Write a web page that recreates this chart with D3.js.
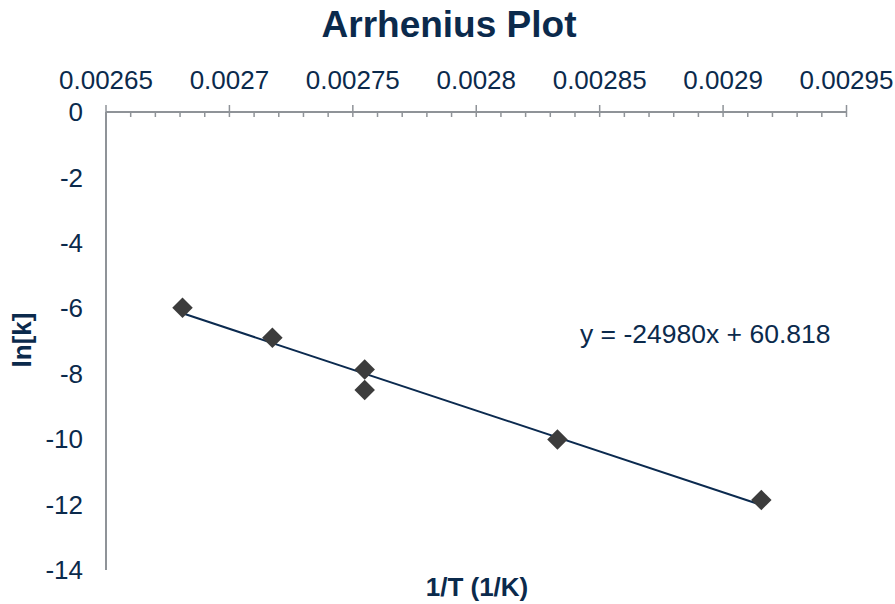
<!DOCTYPE html>
<html>
<head>
<meta charset="utf-8">
<script src="https://cdn.jsdelivr.net/npm/d3@7"></script>
<style>
html,body{margin:0;padding:0;background:#fff;}
svg{display:block;font-family:"Liberation Sans",Arial,sans-serif;}
</style>
</head>
<body>
<svg id="chart" width="895" height="604"></svg>
<script>
// Data
const invT = [0.002681, 0.0027174, 0.0027548, 0.0027548, 0.0028329, 0.0029155];
const lnK = [-5.98, -6.90, -7.87, -8.50, -10.01, -11.86];
const fitSlope = -24980;
const fitIntercept = 60.818;
const xTicks = [0.00265, 0.0027, 0.00275, 0.0028, 0.00285, 0.0029, 0.00295];
const xTickLabels = ["0.00265", "0.0027", "0.00275", "0.0028", "0.00285", "0.0029", "0.00295"];
const yTicks = [0, -2, -4, -6, -8, -10, -12, -14];
const yTickLabels = ["0", "-2", "-4", "-6", "-8", "-10", "-12", "-14"];
const titleText = "Arrhenius Plot";
const xTitle = "1/T (1/K)";
const yTitle = "ln[k]";
const eqText = "y = -24980x + 60.818";

const svg = d3.select("#chart");
const textColor = "#0b2a4c";
const axisColor = "#8f9398";

const x = d3.scaleLinear().domain([0.00265, 0.00295]).range([106, 846.5]);
const y = d3.scaleLinear().domain([-14, 0]).range([570, 112]);

// title
svg.append("text").attr("x", 449).attr("y", 37).attr("text-anchor", "middle")
  .attr("font-size", 37).attr("font-weight", "bold").attr("fill", textColor).text(titleText);

// minor ticks
const minor = [];
for (let i = 0; i < xTicks.length - 1; i++) {
  for (let k = 1; k < 5; k++) minor.push(xTicks[i] + (xTicks[i + 1] - xTicks[i]) * k / 5);
}
const gAxis = svg.append("g");
gAxis.selectAll("line.minor").data(minor).enter().append("line")
  .attr("x1", d => x(d)).attr("x2", d => x(d))
  .attr("y1", y(0)).attr("y2", y(0) + 5)
  .attr("stroke", axisColor).attr("stroke-width", 1.5);
gAxis.selectAll("line.major").data(xTicks).enter().append("line")
  .attr("x1", d => x(d)).attr("x2", d => x(d))
  .attr("y1", y(0) - 7).attr("y2", y(0) + 5)
  .attr("stroke", axisColor).attr("stroke-width", 1.5);
// x axis line
gAxis.append("line").attr("x1", x(0.00265)).attr("x2", x(0.00295))
  .attr("y1", y(0)).attr("y2", y(0)).attr("stroke", axisColor).attr("stroke-width", 2);
// y axis line
gAxis.append("line").attr("x1", x(0.00265)).attr("x2", x(0.00265))
  .attr("y1", y(0)).attr("y2", y(-14)).attr("stroke", axisColor).attr("stroke-width", 2);

// x tick labels
svg.append("g").selectAll("text").data(xTicks).enter().append("text")
  .attr("x", d => x(d)).attr("y", 89).attr("text-anchor", "middle")
  .attr("font-size", 26).attr("fill", textColor)
  .text((d, i) => xTickLabels[i]);

// y tick labels
svg.append("g").selectAll("text").data(yTicks).enter().append("text")
  .attr("x", 83).attr("y", d => y(d)).attr("dy", "0.35em").attr("text-anchor", "end")
  .attr("font-size", 26).attr("fill", textColor)
  .text((d, i) => yTickLabels[i]);

// axis titles
svg.append("text").attr("x", 477).attr("y", 596).attr("text-anchor", "middle")
  .attr("font-size", 26).attr("font-weight", "bold").attr("fill", textColor).text(xTitle);
svg.append("text").attr("transform", "translate(31,340) rotate(-90)").attr("text-anchor", "middle")
  .attr("font-size", 26).attr("font-weight", "bold").attr("fill", textColor).text(yTitle);

// trendline
const xMin = d3.min(invT), xMax = d3.max(invT);
const line = d3.line().x(d => x(d)).y(d => y(fitSlope * d + fitIntercept));
svg.append("path").datum([xMin, xMax]).attr("d", line)
  .attr("fill", "none").attr("stroke", "#0b2a4f").attr("stroke-width", 2);

// markers
const diamond = d3.symbol().type(d3.symbolSquare).size(210);
svg.append("g").selectAll("path").data(invT).enter().append("path")
  .attr("d", diamond)
  .attr("transform", (d, i) => `translate(${x(d)},${y(lnK[i])}) rotate(45)`)
  .attr("fill", "#3c3c3c");

// equation
svg.append("text").attr("x", 580).attr("y", 343).attr("font-size", 26.5)
  .attr("fill", textColor).text(eqText);
</script>
</body>
</html>
